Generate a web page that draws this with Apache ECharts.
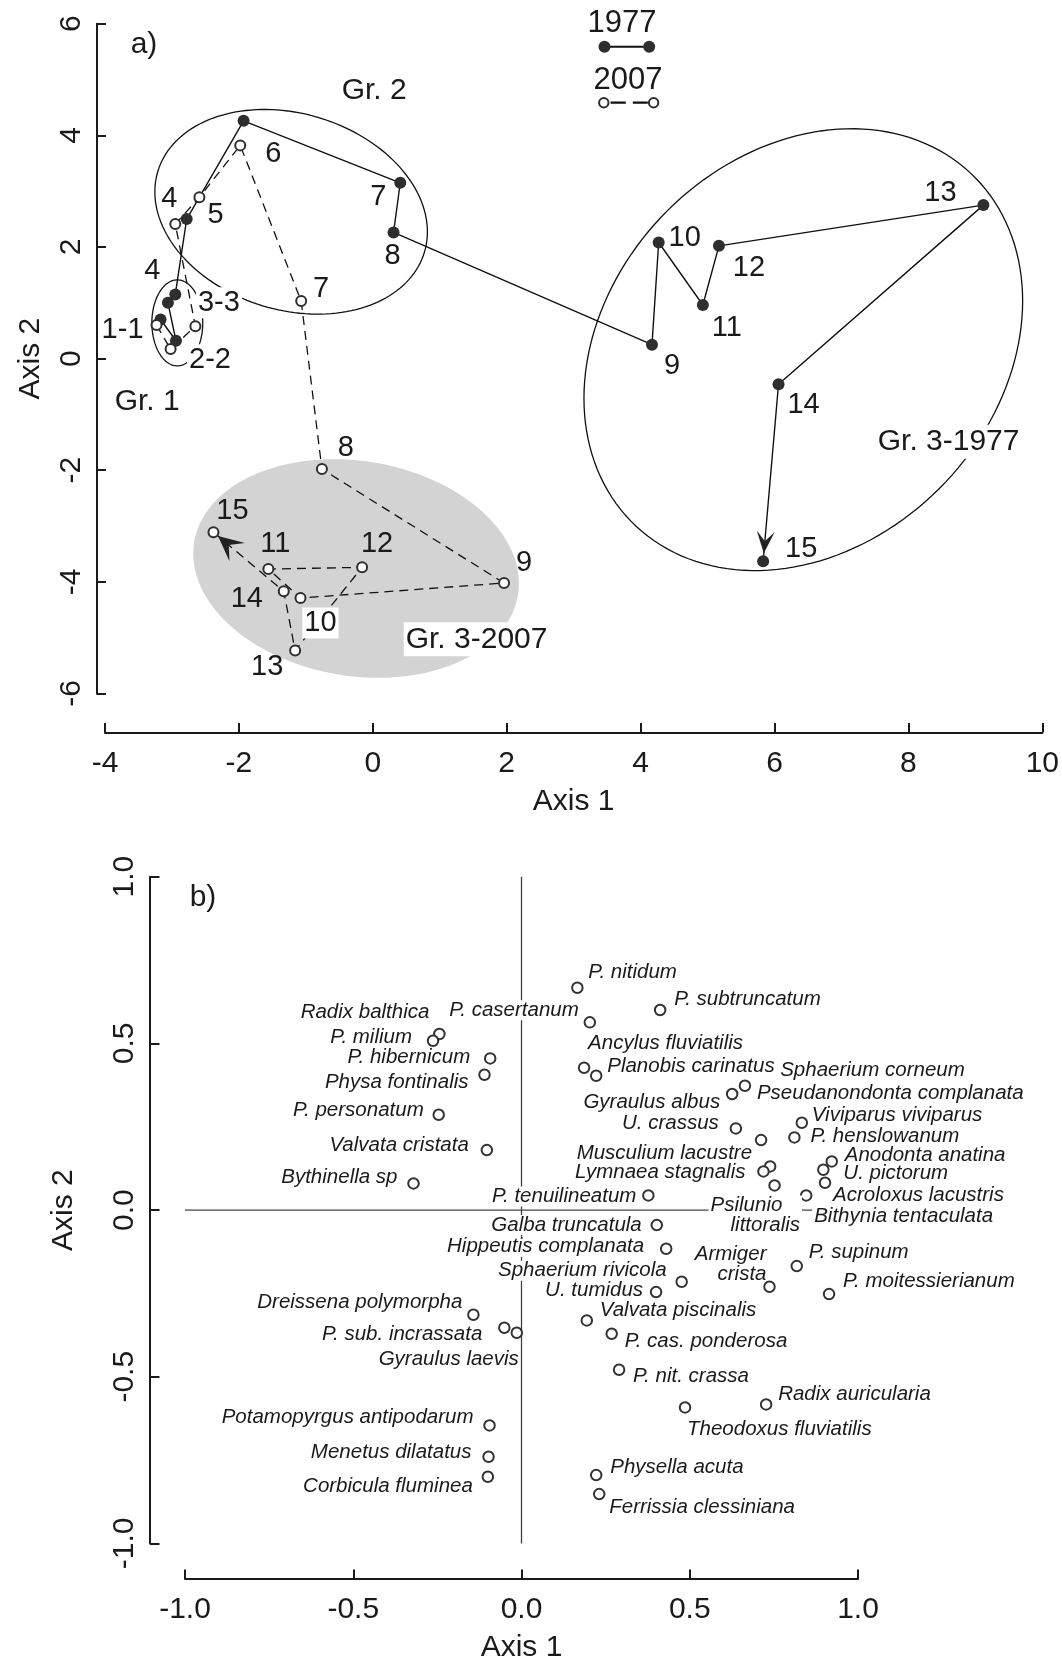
<!DOCTYPE html>
<html>
<head>
<meta charset="utf-8">
<script src="https://cdn.jsdelivr.net/npm/echarts@6/dist/echarts.min.js"></script>
<style>
  html, body { margin: 0; padding: 0; background: #fff; }
  #chart { width: 1062px; height: 1664px; }
</style>
</head>
<body>
<div id="chart"></div>
<script>
// a) site scores on the two first axes, 1977 and 2007 (sites 1..15)
const axis1_1977 = [-3.17, -2.94, -3.06, -2.95, -2.78, -1.93, 0.41, 0.31, 4.17, 4.27, 4.93, 5.17, 9.12, 6.06, 5.83];
const axis2_1977 = [0.70, 0.32, 1.00, 1.15, 2.50, 4.26, 3.15, 2.26, 0.25, 2.08, 0.96, 2.02, 2.75, -0.46, -3.63];
const axis1_2007 = [-3.23, -3.02, -2.65, -2.95, -2.59, -1.98, -1.07, -0.76, 1.96, -1.08, -1.56, -0.16, -1.16, -1.33, -2.38];
const axis2_2007 = [0.60, 0.17, 0.58, 2.41, 2.89, 3.82, 1.03, -1.98, -4.02, -4.29, -3.77, -3.74, -5.23, -4.17, -3.11];
const siteText1977 = ['1-1', '2-2', '3-3', '4', '5', '', '7', '8', '9', '10', '11', '12', '13', '14', '15'];
const siteText2007 = ['', '', '', '4', '', '6', '7', '8', '9', '10', '11', '12', '13', '14', '15'];

// groups drawn as ellipses (centre, semi axes, angle in data units)
const groupNames = ['Gr. 1', 'Gr. 2', 'Gr. 3-1977', 'Gr. 3-2007'];
const groupCx = [-2.92, -1.22, 6.43, -0.25];
const groupCy = [0.64, 2.63, 0.16, -3.76];
const groupA = [0.38, 2.14, 4.12, 2.47];
const groupB = [0.77, 1.71, 3.07, 1.91];
const groupAngle = [0, -30.9, 65.4, -16.0];
const groupLabelX = [-3.37, 0.02, 8.60, 1.55];
const groupLabelY = [-0.77, 4.80, -1.49, -5.03];

// b) species scores
const species = ['P. nitidum', 'P. casertanum', 'P. subtruncatum', 'Radix balthica', 'P. milium',
  'Ancylus fluviatilis', 'P. hibernicum', 'Planobis carinatus', 'Physa fontinalis', 'Pseudanondonta complanata',
  'Gyraulus albus', 'Sphaerium corneum', 'P. personatum', 'U. crassus', 'Viviparus viviparus',
  'P. henslowanum', 'Musculium lacustre', 'Valvata cristata', 'Anodonta anatina', 'Lymnaea stagnalis',
  'U. pictorum', 'Bythinella sp', 'Acroloxus lacustris', 'Psilunio littoralis', 'P. tenuilineatum',
  'Bithynia tentaculata', 'Galba truncatula', 'Hippeutis complanata', 'P. supinum', 'Sphaerium rivicola',
  'Armiger crista', 'U. tumidus', 'P. moitessierianum', 'Dreissena polymorpha', 'Valvata piscinalis',
  'P. sub. incrassata', 'Gyraulus laevis', 'P. cas. ponderosa', 'P. nit. crassa', 'Theodoxus fluviatilis',
  'Radix auricularia', 'Potamopyrgus antipodarum', 'Menetus dilatatus', 'Corbicula fluminea', 'Physella acuta',
  'Ferrissia clessiniana'];
const speciesAxis1 = [0.166, 0.203, 0.412, -0.244, -0.263, 0.186, -0.093, 0.222, -0.110, 0.664,
  0.626, 0.739, -0.246, 0.637, 0.833, 0.811, 0.712, -0.103, 0.922, 0.719,
  0.897, -0.321, 0.902, 0.752, 0.377, 0.846, 0.402, 0.430, 0.818, 0.476,
  0.737, 0.400, 0.914, -0.143, 0.194, -0.051, -0.014, 0.268, 0.290, 0.486,
  0.727, -0.095, -0.098, -0.100, 0.222, 0.231];
const speciesAxis2 = [0.667, 0.563, 0.600, 0.528, 0.508, 0.427, 0.455, 0.403, 0.406, 0.373,
  0.348, 0.131, 0.286, 0.245, 0.262, 0.218, 0.210, 0.180, 0.146, 0.116,
  0.121, 0.080, 0.082, 0.074, 0.044, 0.044, -0.045, -0.116, -0.168, -0.215,
  -0.230, -0.246, -0.252, -0.314, -0.331, -0.353, -0.368, -0.371, -0.479, -0.592,
  -0.583, -0.646, -0.740, -0.800, -0.795, -0.852];

// label placement (pixels, relative to the point) -- styling only
const offsets1977 = [[-38, 10], [34, 19], [51, 0], [-23, -23], [29, -4], [0, 0], [-22, 14], [-1, 24],
  [20, 21], [26, -5], [24, 23], [30, 22], [-43, -12], [25, 21], [38, -12]];
const offsets2007 = [[0, 0], [0, 0], [0, 0], [-6, -25], [0, 0], [33, 9], [20, -12], [24, -21],
  [20, -20], [20, 25], [7, -25], [15, -23], [-28, 16], [-37, 8], [19, -21]];
const masked1977 = [1, 2];
const masked2007 = [9];
const speciesPlace = {
  'P. nitidum': ['left', 11, -15], 'P. casertanum': ['right', -9, -12, 1], 'P. subtruncatum': ['left', 14, -11],
  'Radix balthica': ['right', -10, -22], 'P. milium': ['right', -21, -3], 'Ancylus fluviatilis': ['left', 4, -24],
  'P. hibernicum': ['right', -20, -1], 'Planobis carinatus': ['left', 11, -9], 'Physa fontinalis': ['right', -16, 8],
  'Pseudanondonta complanata': ['left', 12, 8], 'Gyraulus albus': ['right', -12, 8], 'Sphaerium corneum': ['left', 10, -96],
  'P. personatum': ['right', -15, -4], 'U. crassus': ['right', -17, -5], 'Viviparus viviparus': ['left', 10, -7],
  'P. henslowanum': ['left', 16, -1], 'Musculium lacustre': ['right', -9, 13], 'Valvata cristata': ['right', -18, -5],
  'Anodonta anatina': ['left', 13, -6], 'Lymnaea stagnalis': ['right', -18, 1], 'U. pictorum': ['left', 20, 4],
  'Bythinella sp': ['right', -16, -6], 'Acroloxus lacustris': ['left', 8, 13], 'Psilunio littoralis': ['left', -66, 30, 1],
  'P. tenuilineatum': ['right', -10, 1, 1], 'Bithynia tentaculata': ['left', 6, 21, 1], 'Galba truncatula': ['right', -13, 0, 1],
  'Hippeutis complanata': ['right', -20, -2, 1], 'P. supinum': ['left', 12, -14], 'Sphaerium rivicola': ['right', -13, -11, 1],
  'Armiger crista': ['right', -3, -22], 'U. tumidus': ['right', -13, -2], 'P. moitessierianum': ['left', 14, -13],
  'Dreissena polymorpha': ['right', -11, -12], 'Valvata piscinalis': ['left', 13, -10], 'P. sub. incrassata': ['right', -22, 7],
  'Gyraulus laevis': ['right', 2, 27], 'P. cas. ponderosa': ['left', 13, 8], 'P. nit. crassa': ['left', 14, 7],
  'Theodoxus fluviatilis': ['left', 2, 22], 'Radix auricularia': ['left', 12, -10], 'Potamopyrgus antipodarum': ['right', -16, -8],
  'Menetus dilatatus': ['right', -17, -4], 'Corbicula fluminea': ['right', -15, 10], 'Physella acuta': ['left', 14, -8],
  'Ferrissia clessiniana': ['left', 10, 13]
};

const FONT = 'Liberation Sans, Arial, Helvetica, sans-serif';
const INK = '#1a1a1a';
const groupFill = [null, null, null, '#d3d3d3'];
// arrow head sizes: [gap to point, length, notch, half width]
const arrowSize = [[8, 22, 12, 9], [6, 25, 14, 12]];

function siteItems(xs, ys, texts, offsets, masked) {
  return xs.map((x, i) => {
    const m = masked.indexOf(i) >= 0;
    return {
      value: [x, ys[i]],
      label: {
        show: texts[i] !== '',
        formatter: texts[i],
        offset: offsets[i],
        backgroundColor: m ? '#fff' : 'transparent',
        padding: m ? [1, 2] : 0
      }
    };
  });
}

function speciesLabel(name) {
  if (name === 'Psilunio littoralis') return '{a|Psilunio}\n{b|littoralis}';
  if (name === 'Armiger crista') return 'Armiger\ncrista';
  return name;
}

const speciesItems = species.map((s, i) => {
  const p = speciesPlace[s];
  return {
    value: [speciesAxis1[i], speciesAxis2[i]],
    label: {
      formatter: speciesLabel(s),
      align: p[0],
      offset: [p[1], p[2]],
      backgroundColor: p[3] ? '#fff' : 'transparent',
      padding: p[3] ? [0, 2] : 0
    }
  };
});

const groupItems = groupNames.map((g, i) => [groupCx[i], groupCy[i], groupA[i], groupB[i], groupAngle[i]]);
const groupLabelItems = groupNames.map((g, i) => ({
  value: [groupLabelX[i], groupLabelY[i]],
  label: {
    formatter: g,
    backgroundColor: i >= 2 ? '#fff' : 'transparent',
    padding: i >= 2 ? [2, 2] : 0
  }
}));
const last = axis1_1977.length - 1;
const arrowItems = [
  [axis1_1977[last - 1], axis2_1977[last - 1], axis1_1977[last], axis2_1977[last]],
  [axis1_2007[last - 1], axis2_2007[last - 1], axis1_2007[last], axis2_2007[last]]
];

function axisStyle(extra) {
  return Object.assign({
    type: 'value',
    splitLine: { show: false },
    axisLine: { show: true, onZero: false, lineStyle: { color: INK, width: 2 } },
    axisTick: { show: true, inside: true, length: 9.5, lineStyle: { color: INK, width: 2 } },
    nameLocation: 'middle',
    nameTextStyle: { fontSize: 30, color: INK, fontFamily: FONT }
  }, extra);
}

const chart = echarts.init(document.getElementById('chart'));
chart.setOption({
  animation: false,
  backgroundColor: '#fff',
  textStyle: { fontFamily: FONT },
  grid: [
    { left: 105, top: 23.7, width: 943.5, height: 669.8 },
    { left: 185, top: 876.7, width: 673, height: 675 }
  ],
  xAxis: [
    axisStyle({ gridIndex: 0, min: -4, max: 10, interval: 2, offset: 39, name: 'Axis 1', nameGap: 54,
      axisLabel: { fontSize: 30, margin: 16, color: INK, fontFamily: FONT } }),
    axisStyle({ gridIndex: 1, min: -1, max: 1, interval: 0.5, offset: 35.6, name: 'Axis 1', nameGap: 54,
      axisLabel: { fontSize: 30, margin: 16, color: INK, fontFamily: FONT, formatter: v => v.toFixed(1) } })
  ],
  yAxis: [
    axisStyle({ gridIndex: 0, min: -6, max: 6, interval: 2, offset: 8.5, name: 'Axis 2', nameGap: 51,
      axisLabel: { fontSize: 30, margin: 10, rotate: 90, color: INK, fontFamily: FONT } }),
    axisStyle({ gridIndex: 1, min: -1, max: 1, interval: 0.5, offset: 35, name: 'Axis 2', nameGap: 71,
      axisLabel: { fontSize: 30, margin: 10, rotate: 90, color: INK, fontFamily: FONT, formatter: v => v.toFixed(1) } })
  ],
  series: [
    {
      name: 'groups', type: 'custom', xAxisIndex: 0, yAxisIndex: 0, z: 1, silent: true, clip: false,
      data: groupItems,
      renderItem: function (params, api) {
        const cx = api.value(0), cy = api.value(1), a = api.value(2), b = api.value(3);
        const ang = api.value(4) * Math.PI / 180;
        const pts = [];
        for (let k = 0; k < 160; k++) {
          const t = 2 * Math.PI * k / 160;
          const x = cx + a * Math.cos(t) * Math.cos(ang) - b * Math.sin(t) * Math.sin(ang);
          const y = cy + a * Math.cos(t) * Math.sin(ang) + b * Math.sin(t) * Math.cos(ang);
          pts.push(api.coord([x, y]));
        }
        const fill = groupFill[params.dataIndex];
        return {
          type: 'polygon',
          shape: { points: pts },
          style: fill ? { fill: fill, stroke: null } : { fill: null, stroke: '#111', lineWidth: 1.3 }
        };
      }
    },
    {
      name: '1977', type: 'line', xAxisIndex: 0, yAxisIndex: 0, z: 3, silent: true,
      data: siteItems(axis1_1977, axis2_1977, siteText1977, offsets1977, masked1977),
      symbol: 'circle', symbolSize: 12,
      itemStyle: { color: '#2e2e2e' },
      lineStyle: { color: '#111', width: 1.4 },
      label: { show: true, position: 'inside', fontSize: 29, color: INK, fontFamily: FONT }
    },
    {
      name: '2007', type: 'line', xAxisIndex: 0, yAxisIndex: 0, z: 3, silent: true,
      data: siteItems(axis1_2007, axis2_2007, siteText2007, offsets2007, masked2007),
      symbol: 'circle', symbolSize: 10,
      itemStyle: { color: '#fff', borderColor: '#2e2e2e', borderWidth: 2 },
      lineStyle: { color: '#111', width: 1.3, type: [9, 6] },
      label: { show: true, position: 'inside', fontSize: 29, color: INK, fontFamily: FONT }
    },
    {
      name: 'arrows', type: 'custom', xAxisIndex: 0, yAxisIndex: 0, z: 4, silent: true, clip: false,
      encode: { x: [0, 2], y: [1, 3] },
      data: arrowItems,
      renderItem: function (params, api) {
        const s = arrowSize[params.dataIndex];
        const p0 = api.coord([api.value(0), api.value(1)]);
        const p1 = api.coord([api.value(2), api.value(3)]);
        const dx = p1[0] - p0[0], dy = p1[1] - p0[1];
        const len = Math.sqrt(dx * dx + dy * dy);
        const ux = dx / len, uy = dy / len, nx = -uy, ny = ux;
        const tip = [p1[0] - ux * s[0], p1[1] - uy * s[0]];
        const back = [tip[0] - ux * s[1], tip[1] - uy * s[1]];
        const notch = [tip[0] - ux * s[2], tip[1] - uy * s[2]];
        return {
          type: 'polygon',
          shape: { points: [tip, [back[0] + nx * s[3], back[1] + ny * s[3]], notch, [back[0] - nx * s[3], back[1] - ny * s[3]]] },
          style: { fill: '#222' }
        };
      }
    },
    {
      name: 'group labels', type: 'scatter', xAxisIndex: 0, yAxisIndex: 0, z: 5, silent: true,
      symbol: 'circle', symbolSize: 1, itemStyle: { color: 'rgba(0,0,0,0)', opacity: 1 },
      data: groupLabelItems,
      label: { show: true, position: 'inside', fontSize: 30, color: INK, fontFamily: FONT, opacity: 1 }
    },
    {
      name: 'zero x', type: 'line', xAxisIndex: 1, yAxisIndex: 1, z: 1, silent: true, symbol: 'none',
      data: [[0, -1], [0, 1]], lineStyle: { color: '#444', width: 1.3 }
    },
    {
      name: 'zero y', type: 'line', xAxisIndex: 1, yAxisIndex: 1, z: 1, silent: true, symbol: 'none',
      data: [[-1, 0], [1, 0]], lineStyle: { color: '#444', width: 1.3 }
    },
    {
      name: 'species', type: 'scatter', xAxisIndex: 1, yAxisIndex: 1, z: 3, silent: true,
      data: speciesItems,
      symbol: 'circle', symbolSize: 10.5,
      itemStyle: { color: '#fff', borderColor: '#333', borderWidth: 2, opacity: 1 },
      label: {
        show: true, position: 'inside', fontSize: 20.5, fontStyle: 'italic', color: INK, fontFamily: FONT,
        lineHeight: 20,
        rich: {
          a: { fontSize: 20.5, fontStyle: 'italic', color: INK, fontFamily: FONT, lineHeight: 20 },
          b: { fontSize: 20.5, fontStyle: 'italic', color: INK, fontFamily: FONT, lineHeight: 20, padding: [0, 0, 0, 20] }
        }
      }
    }
  ],
  graphic: [
    { type: 'text', x: 144, y: 45, style: { text: 'a)', fontSize: 30, fontFamily: FONT, fill: INK, align: 'center', verticalAlign: 'middle' } },
    { type: 'text', x: 203, y: 898, style: { text: 'b)', fontSize: 30, fontFamily: FONT, fill: INK, align: 'center', verticalAlign: 'middle' } },
    { type: 'text', x: 622, y: 23, style: { text: '1977', fontSize: 31, fontFamily: FONT, fill: INK, align: 'center', verticalAlign: 'middle' } },
    { type: 'line', shape: { x1: 604.5, y1: 46.7, x2: 649.2, y2: 46.7 }, style: { stroke: '#111', lineWidth: 2 } },
    { type: 'circle', shape: { cx: 604.5, cy: 46.7, r: 6 }, style: { fill: '#2e2e2e' } },
    { type: 'circle', shape: { cx: 649.2, cy: 46.7, r: 6 }, style: { fill: '#2e2e2e' } },
    { type: 'text', x: 628, y: 80, style: { text: '2007', fontSize: 31, fontFamily: FONT, fill: INK, align: 'center', verticalAlign: 'middle' } },
    { type: 'line', shape: { x1: 610.6, y1: 102.7, x2: 647.8, y2: 102.7 }, style: { stroke: '#111', lineWidth: 2.2, lineDash: [15.2, 7] } },
    { type: 'circle', shape: { cx: 603.8, cy: 102.7, r: 4.7 }, style: { fill: '#fff', stroke: '#2e2e2e', lineWidth: 2 } },
    { type: 'circle', shape: { cx: 653.6, cy: 102.7, r: 4.7 }, style: { fill: '#fff', stroke: '#2e2e2e', lineWidth: 2 } }
  ]
});
</script>
</body>
</html>
